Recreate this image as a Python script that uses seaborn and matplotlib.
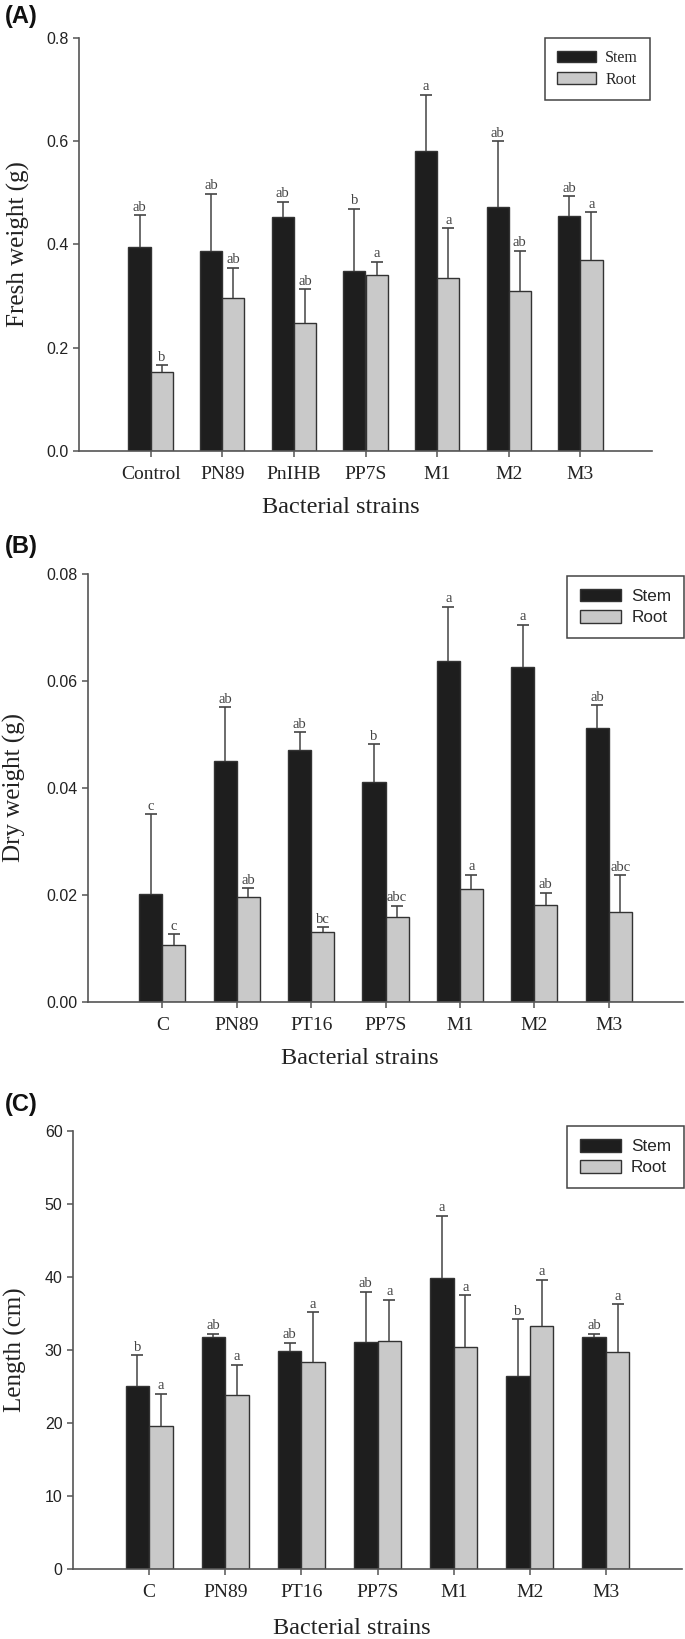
import pandas as pd
import matplotlib.pyplot as plt
import numpy as np
import seaborn as sns
from matplotlib.patches import Patch

# ---- data ----
strains_a = ["Control", "PN89", "PnIHB", "PP7S", "M1", "M2", "M3"]
strains_bc = ["C", "PN89", "PT16", "PP7S", "M1", "M2", "M3"]

fresh_stem = [0.396, 0.388, 0.453, 0.349, 0.582, 0.472, 0.455]
fresh_stem_err = [0.061, 0.110, 0.030, 0.120, 0.108, 0.128, 0.039]
fresh_root = [0.153, 0.297, 0.247, 0.340, 0.336, 0.309, 0.370]
fresh_root_err = [0.013, 0.058, 0.066, 0.027, 0.095, 0.079, 0.092]
fresh_stem_lab = ["ab", "ab", "ab", "b", "a", "ab", "ab"]
fresh_root_lab = ["b", "ab", "ab", "a", "a", "ab", "a"]

dry_stem = [0.0201, 0.0451, 0.0471, 0.0412, 0.0637, 0.0627, 0.0513]
dry_stem_err = [0.0150, 0.0100, 0.0033, 0.0070, 0.0102, 0.0078, 0.0042]
dry_root = [0.0107, 0.0197, 0.0130, 0.0158, 0.0212, 0.0182, 0.0168]
dry_root_err = [0.0020, 0.0016, 0.0010, 0.0022, 0.0026, 0.0022, 0.0069]
dry_stem_lab = ["c", "ab", "ab", "b", "a", "a", "ab"]
dry_root_lab = ["c", "ab", "bc", "abc", "a", "ab", "abc"]

len_stem = [25.1, 31.8, 29.9, 31.1, 39.9, 26.4, 31.8]
len_stem_err = [4.2, 0.4, 1.1, 6.9, 8.5, 7.8, 0.4]
len_root = [19.6, 23.8, 28.3, 31.2, 30.4, 33.3, 29.7]
len_root_err = [4.4, 4.2, 6.9, 5.7, 7.1, 6.3, 6.6]
len_stem_lab = ["b", "ab", "ab", "ab", "a", "b", "ab"]
len_root_lab = ["a", "a", "a", "a", "a", "a", "a"]

SERIF = ["Liberation Serif", "DejaVu Serif"]
SANS = ["Liberation Sans", "DejaVu Sans"]
colors = {"Stem": "#1e1e1e", "Root": "#c9c9c9"}
AXC = "#555555"

sns.set_style("ticks")
plt.rcParams["font.family"] = SERIF


def draw_panel(ax, strains, stem, root, stem_err, root_err, stem_lab, root_lab,
               yticks, yfmt, ylabel, ylab_x, xlab_y, leg_anchor, leg_font):
    df = pd.DataFrame({
        "strain": strains * 2,
        "part": ["Stem"] * len(strains) + ["Root"] * len(strains),
        "value": stem + root,
    })
    sns.barplot(data=df, x="strain", y="value", hue="part", order=strains,
                hue_order=["Stem", "Root"], palette=colors, width=0.62,
                saturation=1, edgecolor="#333333", linewidth=1.0,
                errorbar=None, legend=False, ax=ax)

    for cont, err, labs in zip(ax.containers, [stem_err, root_err], [stem_lab, root_lab]):
        xs = [p.get_x() + p.get_width() / 2 for p in cont]
        ys = [p.get_height() for p in cont]
        _, caps, _ = ax.errorbar(xs, ys, yerr=[np.zeros(len(err)), err], fmt="none",
                                 ecolor="#444444", elinewidth=1.1, capsize=4.5,
                                 capthick=1.2)
        caps[0].set_visible(False)
        for x, y, e, t in zip(xs, ys, err, labs):
            ax.annotate(t, (x, y + e), xytext=(0, 3.2), textcoords="offset points",
                        ha="center", va="baseline", fontsize=10.5, color="#444444",
                        family=SERIF)

    ax.set_xlim(-1, 7)
    ax.set_ylim(yticks[0], yticks[-1])
    ax.set_yticks(yticks)
    ax.set_yticklabels([yfmt.format(v) for v in yticks], family=SANS, fontsize=11.5,
                       color="#222222")
    ax.set_xticks(range(len(strains)))
    ax.set_xticklabels(strains, family=SERIF, fontsize=14, color="#222222")
    ax.tick_params(axis="both", direction="out", length=4.5, width=1.1, color=AXC)
    ax.tick_params(axis="x", pad=6)
    ax.tick_params(axis="y", pad=3)
    sns.despine(ax=ax)
    for s in ["left", "bottom"]:
        ax.spines[s].set_color(AXC)
        ax.spines[s].set_linewidth(1.2)

    ax.set_ylabel(ylabel, family=SERIF, fontsize=18, color="#222222")
    ax.yaxis.set_label_coords(ylab_x, 0.5)
    ax.yaxis.label.set_va("center")
    ax.set_xlabel("Bacterial strains", family=SERIF, fontsize=17.5, color="#222222")
    ax.xaxis.set_label_coords(0.457, xlab_y)
    ax.xaxis.label.set_va("center")

    handles = [Patch(facecolor=colors[k], edgecolor="#333333", linewidth=1.0, label=k)
               for k in ["Stem", "Root"]]
    leg = ax.legend(handles=handles, loc="upper right", bbox_to_anchor=leg_anchor,
                    frameon=True, fancybox=False, framealpha=1, edgecolor="#444444",
                    prop={"family": leg_font[0], "size": leg_font[1]},
                    handlelength=2.4, handleheight=0.75, handletextpad=0.6,
                    labelspacing=0.35, borderpad=0.75, borderaxespad=0)
    leg.get_frame().set_linewidth(1.1)


fig = plt.figure(figsize=(6.85, 16.39), dpi=100)
H = 1639.0
W = 685.0


def axes_px(left, right, top, bottom):
    return fig.add_axes([left / W, 1 - bottom / H, (right - left) / W, (bottom - top) / H])


ax_a = axes_px(79, 652, 38, 451)
ax_b = axes_px(88, 683, 574, 1002)
ax_c = axes_px(73, 682, 1131, 1569)

draw_panel(ax_a, strains_a, fresh_stem, fresh_root, fresh_stem_err, fresh_root_err,
           fresh_stem_lab, fresh_root_lab, [0.0, 0.2, 0.4, 0.6, 0.8], "{:.1f}",
           "Fresh weight (g)", -0.106, -0.136, (0.9965, 1.0), (SERIF, 11.5))
draw_panel(ax_b, strains_bc, dry_stem, dry_root, dry_stem_err, dry_root_err,
           dry_stem_lab, dry_root_lab, [0.0, 0.02, 0.04, 0.06, 0.08], "{:.2f}",
           "Dry weight (g)", -0.123, -0.131, (1.002, 0.995), (SANS, 12.3))
draw_panel(ax_c, strains_bc, len_stem, len_root, len_stem_err, len_root_err,
           len_stem_lab, len_root_lab, [0, 10, 20, 30, 40, 50, 60], "{:d}",
           "Length (cm)", -0.095, -0.135, (1.003, 1.011), (SANS, 12.3))

for lab, yc in [("(A)", 16), ("(B)", 547), ("(C)", 1104)]:
    fig.text(5 / W, 1 - yc / H, lab, ha="left", va="center", fontsize=17,
             fontweight="bold", family=SANS, color="#111111")

fig.savefig("out.png", dpi=100)
